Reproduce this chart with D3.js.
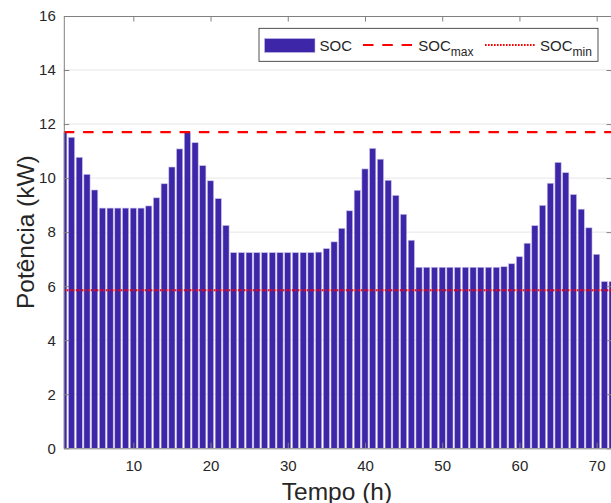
<!DOCTYPE html>
<html>
<head>
<meta charset="utf-8">
<script src="https://cdn.jsdelivr.net/npm/d3@7"></script>
<style>
  html, body { margin: 0; padding: 0; background: #fff; }
  svg { display: block; }
  text { font-family: "Liberation Sans", Arial, Helvetica, sans-serif; }
</style>
</head>
<body>
<svg id="chart" width="611" height="503"></svg>
<script>
// ---- data ----
const hours = d3.range(1, 73);
const soc = [
  11.70, 11.51, 10.77, 10.14, 9.56,
  8.89, 8.89, 8.89, 8.89, 8.89, 8.89,
  8.97, 9.27, 9.79, 10.41, 11.08, 11.69, 11.31, 10.46, 9.90, 9.24, 8.25,
  7.24, 7.24, 7.24, 7.24, 7.24, 7.24, 7.24, 7.24, 7.24, 7.24, 7.24,
  7.26, 7.39, 7.64, 8.14, 8.79, 9.55, 10.34, 11.10, 10.70, 9.92, 9.36, 8.66, 7.70,
  6.70, 6.70, 6.70, 6.70, 6.70, 6.70, 6.70, 6.70, 6.70, 6.70, 6.70,
  6.72, 6.83, 7.09, 7.59, 8.24, 8.99, 9.81, 10.58, 10.20, 9.39, 8.85, 8.16, 7.18, 6.17, 6.17
];
const socMax = 11.7;
const socMin = 5.85;
const xTicks = [10, 20, 30, 40, 50, 60, 70];
const yTicks = [0, 2, 4, 6, 8, 10, 12, 14, 16];
const xLabel = "Tempo (h)";
const yLabel = "Potência (kW)";
const legendLabels = ["SOC", "SOC", "SOC"];
const legendSubs = ["", "max", "min"];

// ---- layout ----
const svg = d3.select("#chart");
const L = 63.8, R = 612.1, T = 16, B = 448.3;
const x = d3.scaleLinear().domain([1, 72]).range([L, R]);
const y = d3.scaleLinear().domain([0, 16]).range([B, T]);
const barColor = "#3E26A8";
const axisColor = "#808080";
const textColor = "#262626";

svg.append("defs").append("clipPath").attr("id", "clip")
  .append("rect").attr("x", L).attr("y", T).attr("width", R - L).attr("height", B - T);

// gridlines
svg.append("g").selectAll("line").data(yTicks.filter(d => d > 0 && d < 16)).join("line")
  .attr("x1", L).attr("x2", R)
  .attr("y1", d => y(d)).attr("y2", d => y(d))
  .attr("stroke", "#e6e6e6").attr("stroke-width", 1);

// bars
const bw = x(1.8) - x(1);
svg.append("g").attr("clip-path", "url(#clip)")
  .selectAll("rect").data(hours).join("rect")
  .attr("x", (d) => x(d) - bw / 2)
  .attr("width", bw)
  .attr("y", (d, i) => y(soc[i]))
  .attr("height", (d, i) => y(0) - y(soc[i]))
  .attr("fill", barColor)
  .attr("stroke", "#c4bfe6")
  .attr("stroke-width", 0.6);

// reference lines
svg.append("line").attr("clip-path", "url(#clip)")
  .attr("x1", L).attr("x2", R).attr("y1", y(socMax)).attr("y2", y(socMax))
  .attr("stroke", "#ff0000").attr("stroke-width", 2.2).attr("stroke-dasharray", "10.5,8.8");
svg.append("line").attr("clip-path", "url(#clip)")
  .attr("x1", L).attr("x2", R).attr("y1", y(socMin)).attr("y2", y(socMin))
  .attr("stroke", "#ff0000").attr("stroke-width", 2.2).attr("stroke-dasharray", "1.6,1.4");

// axes
const tickLen = 5.5;
const gx = svg.append("g").attr("transform", `translate(0,${B})`)
  .call(d3.axisBottom(x).tickValues(xTicks).tickSizeInner(-tickLen).tickSizeOuter(0).tickPadding(12));
const gy = svg.append("g").attr("transform", `translate(${L},0)`)
  .call(d3.axisLeft(y).tickValues(yTicks).tickSizeInner(-tickLen).tickSizeOuter(0).tickPadding(8));
const gt = svg.append("g").attr("transform", `translate(0,${T})`)
  .call(d3.axisTop(x).tickValues(xTicks).tickSizeInner(-tickLen).tickSizeOuter(0).tickFormat(""));
const gr = svg.append("g").attr("transform", `translate(${R},0)`)
  .call(d3.axisRight(y).tickValues(yTicks).tickSizeInner(-tickLen).tickSizeOuter(0).tickFormat(""));
[gx, gy, gt, gr].forEach(g => {
  g.select(".domain").attr("stroke", axisColor).attr("stroke-width", 1);
  g.selectAll(".tick line").attr("stroke", axisColor).attr("stroke-width", 1);
  g.selectAll(".tick text").attr("fill", textColor).attr("font-size", 15)
    .attr("font-family", '"Liberation Sans", Arial, sans-serif');
});
gx.selectAll(".tick text").attr("dy", "0.71em");

// axis titles
svg.append("text").attr("x", (L + R) / 2 - 1).attr("y", 499.5)
  .attr("text-anchor", "middle").attr("font-size", 24.5).attr("fill", textColor).text(xLabel);
svg.append("text").attr("transform", `translate(33.5,${(T + B) / 2}) rotate(-90)`)
  .attr("text-anchor", "middle").attr("font-size", 24.5).attr("fill", textColor).text(yLabel);

// legend
const lg = svg.append("g");
lg.append("rect").attr("x", 259).attr("y", 28.3).attr("width", 339).attr("height", 33)
  .attr("fill", "#fff").attr("stroke", "#262626").attr("stroke-width", 0.8);
lg.append("rect").attr("x", 264.5).attr("y", 38.5).attr("width", 50.5).attr("height", 14)
  .attr("fill", barColor).attr("stroke", "#c4bfe6").attr("stroke-width", 0.6);
lg.append("line").attr("x1", 363).attr("x2", 412).attr("y1", 45).attr("y2", 45)
  .attr("stroke", "#ff0000").attr("stroke-width", 2.2).attr("stroke-dasharray", "10.5,8.8");
lg.append("line").attr("x1", 485).attr("x2", 536).attr("y1", 45).attr("y2", 45)
  .attr("stroke", "#ff0000").attr("stroke-width", 2.2).attr("stroke-dasharray", "1.6,1.4");
const lx = [319.5, 418.3, 540];
legendLabels.forEach((lab, i) => {
  const t = lg.append("text").attr("x", lx[i]).attr("y", 50.5)
    .attr("font-size", 15).attr("fill", textColor).text(lab);
  if (legendSubs[i]) {
    t.append("tspan").attr("dy", 5).attr("font-size", 12).text(legendSubs[i]);
  }
});
</script>
</body>
</html>
